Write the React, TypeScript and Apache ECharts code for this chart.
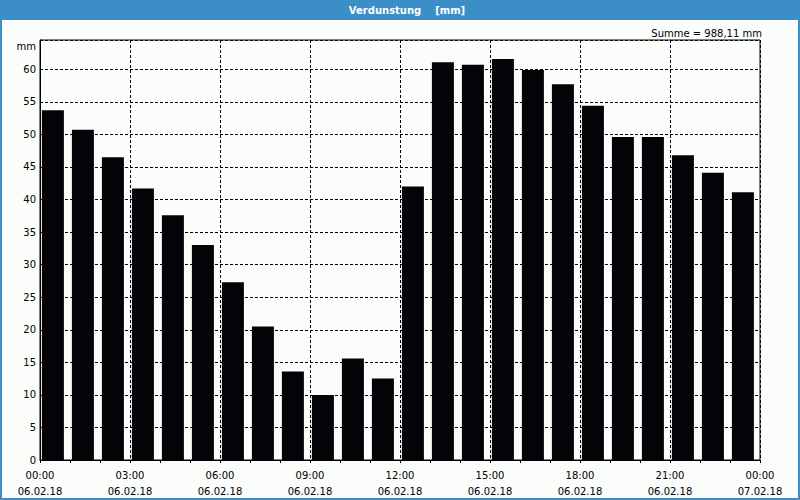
import React, { useEffect, useRef } from "react";
import * as echarts from "echarts";

const values = [
  53.7, 50.7, 46.5, 41.7, 37.6, 33.0, 27.3, 20.5, 13.6, 10.0, 15.6, 12.5,
  42.0, 61.1, 60.7, 61.6, 59.9, 57.7, 54.4, 49.6, 49.6, 46.8, 44.1, 41.1,
];
const timeLabels = ["00:00", "03:00", "06:00", "09:00", "12:00", "15:00", "18:00", "21:00", "00:00"];
const dateLabels = ["06.02.18", "06.02.18", "06.02.18", "06.02.18", "06.02.18", "06.02.18", "06.02.18", "06.02.18", "07.02.18"];
const titleText = "Verdunstung    [mm]";
const sumText = "Summe = 988,11 mm";
const unitText = "mm";

const FONT = "DejaVu Sans";

export default function App() {
  const ref = useRef<HTMLDivElement>(null);
  useEffect(() => {
    document.body.style.margin = "0";
    const chart = echarts.init(ref.current!, null, { renderer: "svg" });
    chart.setOption({
      animation: false,
      backgroundColor: "#fbfdfb",
      textStyle: { fontFamily: FONT },
      grid: {
        left: 40, right: 40, top: 40, bottom: 40,
        show: true, borderColor: "#000", borderWidth: 1, backgroundColor: "transparent",
      },
      xAxis: {
        type: "value",
        min: 0, max: 24, interval: 3,
        axisLine: { show: true, lineStyle: { color: "#000", width: 1 } },
        axisTick: { show: true, length: 3, lineStyle: { color: "#000" } },
        minorTick: { show: true, splitNumber: 3, length: 3, lineStyle: { color: "#000" } },
        splitLine: { show: true, lineStyle: { color: "#000", type: [3, 2], width: 1 } },
        axisLabel: {
          margin: 7,
          fontSize: 10,
          fontFamily: FONT,
          color: "#000",
          lineHeight: 16,
          formatter: (v: number) => {
            const i = Math.round(v / 3);
            return timeLabels[i] + "\n" + dateLabels[i];
          },
        },
      },
      yAxis: {
        type: "value",
        min: 0, max: 64.5, interval: 5,
        axisLine: { show: true, lineStyle: { color: "#000", width: 1 } },
        axisTick: { show: false },
        splitLine: { show: true, lineStyle: { color: "#000", type: [3, 2], width: 1 } },
        axisLabel: {
          margin: 4, fontSize: 10, fontFamily: FONT, color: "#000",
          showMaxLabel: false,
          formatter: (v: number) => (v % 5 === 0 ? String(v) : ""),
        },
      },
      series: [
        {
          type: "bar",
          barWidth: 22,
          itemStyle: { color: "#050308" },
          data: values.map((v, i) => [i + 0.43, v]),
        },
      ],
      graphic: [
        { type: "rect", left: 0, top: 0, shape: { width: 800, height: 20 }, style: { fill: "#3c8fc6" } },
        {
          type: "rect", shape: { x: 1, y: 1, width: 798, height: 498 },
          style: { fill: "none", stroke: "#3c8fc6", lineWidth: 2 },
        },
        {
          type: "text", x: 407, y: 10,
          style: {
            text: titleText, fill: "#fff", font: `bold 10px "${FONT}"`,
            textAlign: "center", textVerticalAlign: "middle",
          },
        },
        {
          type: "text", x: 762, y: 33,
          style: {
            text: sumText, fill: "#000", font: `10px "${FONT}"`,
            textAlign: "right", textVerticalAlign: "middle",
          },
        },
        {
          type: "text", x: 36, y: 46,
          style: {
            text: unitText, fill: "#000", font: `10px "${FONT}"`,
            textAlign: "right", textVerticalAlign: "middle",
          },
        },
      ],
    });
    return () => chart.dispose();
  }, []);
  return <div ref={ref} style={{ width: 800, height: 500 }} />;
}
